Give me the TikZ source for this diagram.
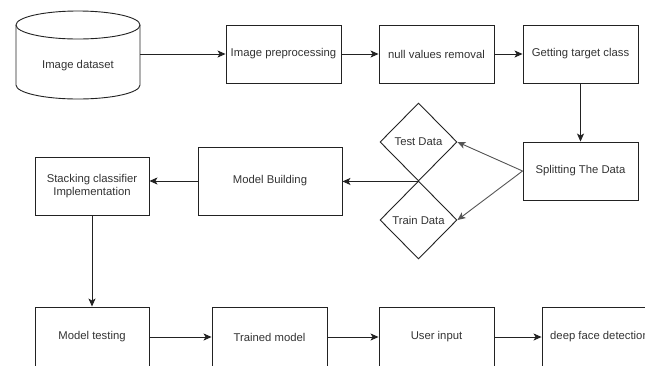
\documentclass[tikz,border=0pt]{standalone}
\usepackage{fontspec}
\setmainfont{Liberation Sans}
\usetikzlibrary{shapes.geometric,arrows.meta}
\definecolor{ink}{HTML}{222222}
\definecolor{txt}{HTML}{333333}
\definecolor{soft}{HTML}{555555}
\begin{document}
\begin{tikzpicture}[x=1pt,y=-1pt,
  font=\fontsize{11.3}{13.5}\selectfont,
  every node/.style={text=txt},
  procbox/.style={draw=ink,line width=0.9pt,rectangle,inner sep=0pt,
    minimum width=115,minimum height=58,align=center},
  decision/.style={draw=ink,line width=0.9pt,diamond,aspect=1,inner sep=0pt,
    minimum width=77,minimum height=78},
  flow/.style={draw=ink,line width=0.9pt,-{Stealth[length=8pt,width=7pt,inset=2pt]}},
  softflow/.style={flow,draw=soft}]
\useasboundingbox (0,0) rectangle (645,365);
\clip (0,0) rectangle (645,365);
\fill[white] (0,0) rectangle (645,365);

% data store drawn as a cylinder
\draw[ink,line width=0.9pt,fill=white]
  (16,25) -- (16,85) arc[start angle=180,end angle=0,x radius=62,y radius=14]
  -- (140,25);
\draw[ink,line width=0.9pt] (78,25) ellipse[x radius=62,y radius=14];
\node[minimum width=124,minimum height=88,inner sep=0pt] (data) at (78,55) {};
\node (datalbl) at (78,66) {Image dataset};

% top row
\node[procbox] (prep)   at (283.5,54) {Image preprocessing};
\node[procbox] (null)   at (436.5,54) {null values removal};
\node[procbox] (target) at (580.5,54) {Getting target class};

% split stage
\node[procbox] (split) at (580.5,171) {Splitting The Data};
\node[decision] (test)  at (418.5,142) {Test Data};
\node[decision] (train) at (418.5,220) {Train Data};

% model stages
\node[procbox,minimum width=144,minimum height=68] (build) at (270,181) {Model Building};
\node[procbox,minimum width=114] (stack) at (92,186) {Stacking classifier\\Implementation};

% bottom row
\node[procbox,minimum width=114,minimum height=60] (mtest)   at (92,337)    {Model testing};
\node[procbox,minimum height=60] (trained) at (269.5,337) {Trained model};
\node[procbox,minimum height=60] (user)    at (436.5,337) {User input};
\node[procbox,minimum height=60] (deep)    at (599.5,337) {deep face detection};

% connectors
\draw[flow] (data.east |- prep.west) -- (prep.west);
\draw[flow] (prep) -- (null);
\draw[flow] (null) -- (target);
\draw[flow] (target) -- (split);
\draw[softflow] (split.west) -- (test.east);
\draw[softflow] (split.west) -- (train.east);
\draw[flow] (test.south) -- (test.south -| build.east);
\draw[flow] (build.west) -- (build.west -| stack.east);
\draw[flow] (stack) -- (mtest);
\draw[flow] (mtest) -- (trained);
\draw[flow] (trained) -- (user);
\draw[flow] (user) -- (deep);
\end{tikzpicture}
\end{document}
